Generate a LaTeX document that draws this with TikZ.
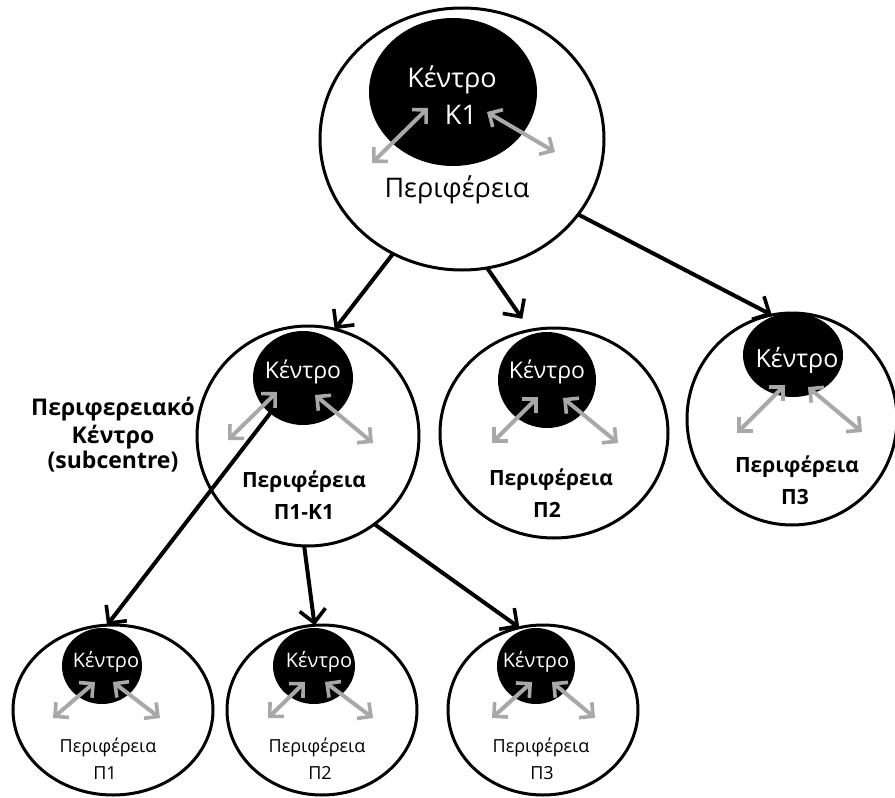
\documentclass[tikz,border=0pt]{standalone}
\usepackage{fontspec}
\setmainfont{Open Sans}
\usetikzlibrary{arrows.meta,shapes.geometric}
\definecolor{lightarrow}{HTML}{A8A8A8}
\begin{document}
\begin{tikzpicture}[x=1pt,y=-1pt,
  outer/.style={ellipse,draw=black,line width=3pt,fill=white,inner sep=0pt,outer sep=0pt},
  core/.style={ellipse,fill=black,inner sep=0pt,outer sep=0pt},
  wtxt/.style={text=white,inner sep=0pt},
  btxt/.style={text=black,inner sep=0pt},
  fbig/.style={font=\fontsize{27}{27}\selectfont},
  fmid/.style={font=\fontsize{23}{23}\selectfont},
  fmidb/.style={font=\bfseries\fontsize{21}{21}\selectfont},
  flab/.style={font=\bfseries\fontsize{23}{23}\selectfont},
  fsmall/.style={font=\fontsize{20}{20}\selectfont},
  fsmallp/.style={font=\fontsize{18}{18}\selectfont},
  conn/.style={line width=4pt,-{Straight Barb[length=13pt,width=26pt,line width=3.6pt]}},
  garrow/.style={draw=lightarrow,line width=4pt,{Straight Barb[length=10pt,width=20pt,line width=3.6pt]}-{Straight Barb[length=10pt,width=20pt,line width=3.6pt]}},
]
\useasboundingbox (0,0) rectangle (895,798);

% outer circles
\node[outer,minimum width=284pt,minimum height=262pt] (top) at (462,139) {};
\node[outer,minimum width=222pt,minimum height=220pt] (m1) at (308,436) {};
\node[outer,minimum width=228pt,minimum height=210pt] (m2) at (554,433) {};
\node[outer,minimum width=210pt,minimum height=212pt] (m3) at (792,419) {};
\node[outer,minimum width=200pt,minimum height=170pt] (b1) at (113,710) {};
\node[outer,minimum width=190pt,minimum height=170pt] (b2) at (322,710) {};
\node[outer,minimum width=190pt,minimum height=170pt] (b3) at (543,710) {};

% cores
\node[core,minimum width=168pt,minimum height=148pt] (k0) at (453,92) {};
\node[core,minimum width=100pt,minimum height=94pt] (c1) at (303,378) {};
\node[core,minimum width=98pt,minimum height=96pt] (c2) at (547,380) {};
\node[core,minimum width=100pt,minimum height=84pt] (c3) at (793,355) {};
\node[core,minimum width=80pt,minimum height=76pt] (d1) at (102,666) {};
\node[core,minimum width=82pt,minimum height=76pt] (d2) at (314,666) {};
\node[core,minimum width=78pt,minimum height=76pt] (d3) at (536,666) {};

% texts in cores
\node[wtxt,fbig] (k0a) at (452,80) {Κέντρο};
\node[wtxt,fbig] (k0b) at (461,115) {Κ1};
\node[wtxt,fmid] (c1t) at (303,372) {Κέντρο};
\node[wtxt,fmid] (c2t) at (547,372) {Κέντρο};
\node[wtxt,font=\fontsize{25}{25}\selectfont] (c3t) at (797,360) {Κέντρο};
\node[wtxt,fsmall] (d1t) at (106,662) {Κέντρο};
\node[wtxt,fsmall] (d2t) at (319,662) {Κέντρο};
\node[wtxt,fsmall] (d3t) at (536,662) {Κέντρο};

% periphery texts
\node[btxt,fbig] (p0) at (457,190) {Περιφέρεια};
\node[btxt,fmidb] (p1a) at (304,482) {Περιφέρεια};
\node[btxt,fmidb] (p1b) at (304,512) {Π1-Κ1};
\node[btxt,fmidb] (p2a) at (551,480) {Περιφέρεια};
\node[btxt,fmidb] (p2b) at (547,510) {Π2};
\node[btxt,fmidb] (p3a) at (797,467) {Περιφέρεια};
\node[btxt,fmidb] (p3b) at (795,497) {Π3};
\node[btxt,fsmallp] (q1a) at (108,747) {Περιφέρεια};
\node[btxt,fsmallp] (q1b) at (105,773) {Π1};
\node[btxt,fsmallp] (q2a) at (317,747) {Περιφέρεια};
\node[btxt,fsmallp] (q2b) at (320,773) {Π2};
\node[btxt,fsmallp] (q3a) at (541,747) {Περιφέρεια};
\node[btxt,fsmallp] (q3b) at (542,773) {Π3};

% side label
\node[btxt,flab,align=center] (lab) at (113,435) {Περιφερειακό\\[3pt]Κέντρο\\[2pt](subcentre)};

% grey double arrows
\draw[garrow] ([shift={(-81,71)}]k0.center) -- ([shift={(-25,16)}]k0.center);
\draw[garrow] ([shift={(34,20)}]k0.center) -- ([shift={(102,60)}]k0.center);
\draw[garrow] ([shift={(-75,62)}]c1.center) -- ([shift={(-26,14)}]c1.center);
\draw[garrow] ([shift={(12,17)}]c1.center) -- ([shift={(70,65)}]c1.center);
\draw[garrow] ([shift={(-55,63)}]c2.center) -- ([shift={(-9,17)}]c2.center);
\draw[garrow] ([shift={(16,18)}]c2.center) -- ([shift={(71,63)}]c2.center);
\draw[garrow] ([shift={(-56,78)}]c3.center) -- ([shift={(-8,30)}]c3.center);
\draw[garrow] ([shift={(15,32)}]c3.center) -- ([shift={(69,77)}]c3.center);
\draw[garrow] ([shift={(-49,52)}]d1.center) -- ([shift={(-7,16)}]d1.center);
\draw[garrow] ([shift={(11,16)}]d1.center) -- ([shift={(58,52)}]d1.center);
\draw[garrow] ([shift={(-46,52)}]d2.center) -- ([shift={(-9,16)}]d2.center);
\draw[garrow] ([shift={(11,16)}]d2.center) -- ([shift={(59,52)}]d2.center);
\draw[garrow] ([shift={(-44,52)}]d3.center) -- ([shift={(-4,16)}]d3.center);
\draw[garrow] ([shift={(16,16)}]d3.center) -- ([shift={(59,52)}]d3.center);

% black connectors
\draw[conn] (top.239) -- (m1.76);
\draw[conn,shorten >=14pt] (top.281) -- (m2.103);
\draw[conn] (top.327) -- (m3.101);
\draw[conn] (c1.227) -- (b1.94);
\draw[conn] (m1.268) -- (b2.95);
\draw[conn] (m1.307) -- (b3.106);
\end{tikzpicture}
\end{document}
